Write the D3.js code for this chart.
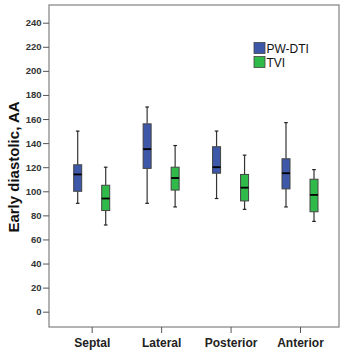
<!DOCTYPE html>
<html>
<head>
<meta charset="utf-8">
<script src="https://cdn.jsdelivr.net/npm/d3@7"></script>
<style>
  body { margin: 0; background: #fff; }
  svg { display: block; font-family: "Liberation Sans", Arial, sans-serif; }
</style>
</head>
<body>
<svg id="chart"></svg>
<script>
// categories and series
const sites = ['Septal', 'Lateral', 'Posterior', 'Anterior'];
const series = ['PW-DTI', 'TVI'];
const colors = ['#3d57a9', '#2fba4a'];

// five-number summaries per site: [min, q1, median, q3, max]
const pwDti = [
    [90, 100, 114, 122, 150],
    [90, 119, 135, 156, 170],
    [94, 115, 120, 137, 150],
    [87, 102, 115, 127, 157]
];
const tvi = [
    [72, 84, 94, 105, 120],
    [87, 101, 111, 120, 138],
    [85, 92, 103, 114, 130],
    [75, 83, 97, 110, 118]
];
const yTicks = [0, 20, 40, 60, 80, 100, 120, 140, 160, 180, 200, 220, 240];

const width = 349, height = 353;
const frame = { left: 49, top: 5, right: 339, bottom: 327 };

const svg = d3.select('#chart')
    .attr('width', width)
    .attr('height', height);

const y = d3.scaleLinear().domain([0, 240]).range([311.7, 22.7]);
const x = d3.scalePoint().domain(sites).range([91.7, 300]);
const offset = d3.scalePoint().domain(series).range([-14, 14]);
const boxW = 8;

// frame
svg.append('rect')
    .attr('x', frame.left)
    .attr('y', frame.top)
    .attr('width', frame.right - frame.left)
    .attr('height', frame.bottom - frame.top)
    .attr('fill', 'none')
    .attr('stroke', '#8a8a8a')
    .attr('stroke-width', 1.3);

// y axis
const yAxis = d3.axisLeft(y).tickValues(yTicks).tickSize(6).tickPadding(1.5);
const yg = svg.append('g')
    .attr('transform', `translate(${frame.left},0)`)
    .call(yAxis);
yg.select('.domain').remove();
yg.selectAll('.tick line').attr('stroke', '#555');
yg.selectAll('.tick text')
    .attr('fill', '#333')
    .style('font-size', '9.5px')
    .style('font-weight', 'bold')
    .style('font-family', '"Liberation Sans", Arial, sans-serif');

// x axis
const xAxis = d3.axisBottom(x).tickSize(6).tickPadding(5);
const xg = svg.append('g')
    .attr('transform', `translate(0,${frame.bottom})`)
    .call(xAxis);
xg.select('.domain').remove();
xg.selectAll('.tick line').attr('stroke', '#555');
xg.selectAll('.tick text')
    .attr('fill', '#222')
    .style('font-size', '12px')
    .style('font-weight', 'bold')
    .style('font-family', '"Liberation Sans", Arial, sans-serif');

// y title
svg.append('text')
    .attr('transform', `translate(19,167) rotate(-90)`)
    .attr('text-anchor', 'middle')
    .attr('fill', '#111')
    .style('font-size', '15px')
    .style('font-weight', 'bold')
    .text('Early diastolic, AA');

// boxes
const boxData = [];
sites.forEach((s, i) => {
    boxData.push({ site: s, serie: series[0], v: pwDti[i], color: colors[0] });
    boxData.push({ site: s, serie: series[1], v: tvi[i], color: colors[1] });
});

const boxes = svg.append('g').selectAll('g.box')
    .data(boxData)
    .join('g')
    .attr('class', 'box')
    .attr('transform', d => `translate(${x(d.site) + offset(d.serie)},0)`);

// whiskers
boxes.append('line')
    .attr('x1', 0).attr('x2', 0)
    .attr('y1', d => y(d.v[4])).attr('y2', d => y(d.v[3]))
    .attr('stroke', '#333').attr('stroke-width', 1.2);
boxes.append('line')
    .attr('x1', 0).attr('x2', 0)
    .attr('y1', d => y(d.v[1])).attr('y2', d => y(d.v[0]))
    .attr('stroke', '#333').attr('stroke-width', 1.2);
// caps
boxes.append('line')
    .attr('x1', -1.8).attr('x2', 1.8)
    .attr('y1', d => y(d.v[4])).attr('y2', d => y(d.v[4]))
    .attr('stroke', '#222').attr('stroke-width', 1.2);
boxes.append('line')
    .attr('x1', -1.8).attr('x2', 1.8)
    .attr('y1', d => y(d.v[0])).attr('y2', d => y(d.v[0]))
    .attr('stroke', '#222').attr('stroke-width', 1.2);

boxes.append('rect')
    .attr('x', -boxW / 2)
    .attr('width', boxW)
    .attr('y', d => y(d.v[3]))
    .attr('height', d => y(d.v[1]) - y(d.v[3]))
    .attr('fill', d => d.color)
    .attr('stroke', '#444')
    .attr('stroke-width', 1);

boxes.append('line')
    .attr('x1', -boxW / 2).attr('x2', boxW / 2)
    .attr('y1', d => y(d.v[2])).attr('y2', d => y(d.v[2]))
    .attr('stroke', '#000').attr('stroke-width', 1.8);

// legend
const legend = svg.append('g').selectAll('g')
    .data(series)
    .join('g')
    .attr('transform', (d, i) => `translate(254,${42.5 + i * 14})`);
legend.append('rect')
    .attr('width', 11).attr('height', 11)
    .attr('fill', (d, i) => colors[i])
    .attr('stroke', '#444').attr('stroke-width', 0.8);
legend.append('text')
    .attr('x', 12.5).attr('y', 10)
    .attr('fill', '#111')
    .style('font-size', '12px')
    .text(d => d);
</script>
</body>
</html>
